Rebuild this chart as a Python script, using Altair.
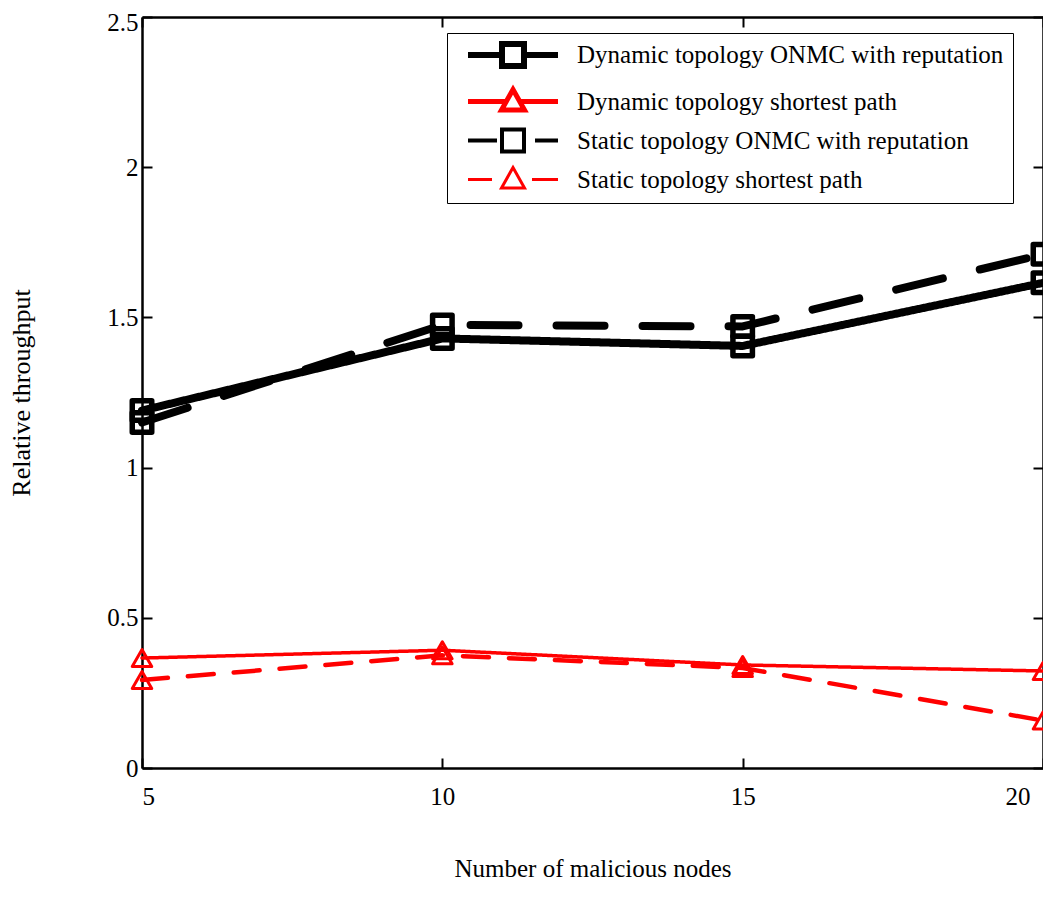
import altair as alt
import pandas as pd

# ---------------- data ----------------
nodes = [5, 10, 15, 20]
dyn_onmc = [1.19, 1.43, 1.405, 1.615]
dyn_sp = [0.366, 0.392, 0.343, 0.323]
sta_onmc = [1.15, 1.475, 1.47, 1.71]
sta_sp = [0.293, 0.375, 0.333, 0.158]
series_names = [
    "Dynamic topology ONMC with reputation",
    "Dynamic topology shortest path",
    "Static topology ONMC with reputation",
    "Static topology shortest path",
]
x_ticks = [5, 10, 15, 20]
y_ticks = [0, 0.5, 1, 1.5, 2, 2.5]

rows = []
for name, vals in zip(series_names, [dyn_onmc, dyn_sp, sta_onmc, sta_sp]):
    for n, v in zip(nodes, vals):
        rows.append({"nodes": n, "value": v, "series": name})
df = pd.DataFrame(rows)

# ---------------- style ----------------
W, H = 901, 751
FONT = "Liberation Serif"
colors = ["black", "red", "black", "red"]
line_widths = [8, 3.5, 8, 4.5]
dashes = [[1, 0], [1, 0], [48, 38], [26, 20]]
shapes = ["square", "triangle-up", "square", "triangle-up"]
marker_sizes = [380, 380, 380, 380]
marker_widths = [5.5, 3, 5.5, 3]
legend_paths = [
    "M-4.5,0H-1.1M1.1,0H4.5M-1.1,-1.1H1.1V1.1H-1.1Z",
    "M-4.5,0H-0.7M0.7,0H4.5M0,-1.2L1.15,0.85H-1.15Z",
    "M-4.5,0H-1.6M-1.1,-1.1H1.1V1.1H-1.1ZM2.2,0H4.5",
    "M-4.5,0H-2.1M0,-1.2L1.15,0.85H-1.15ZM1.9,0H4.5",
]
legend_widths = [6, 3, 6, 3]

xs = alt.Scale(domain=[5, 20], nice=False, zero=False)
ys = alt.Scale(domain=[0, 2.5], nice=False, zero=False)


def X(axis):
    return alt.X("nodes:Q", scale=xs, axis=axis)


def Y(axis):
    return alt.Y("value:Q", scale=ys, axis=axis)


def tick_axis(orient, vals):
    return alt.Axis(orient=orient, values=vals, labels=False, title=None,
                    domain=False, ticks=True, tickSize=10, tickWidth=2,
                    tickColor="black", offset=-10, grid=False)


def frame_axis(orient, vals):
    return alt.Axis(orient=orient, values=vals, labels=False, title=None,
                    domain=True, domainColor="black", domainWidth=2.5,
                    ticks=False, grid=False)


base = alt.Chart(df)

label_layer = base.mark_point(opacity=0).encode(
    x=X(alt.Axis(orient="bottom", values=x_ticks, title="Number of malicious nodes",
                 ticks=False, domain=True, domainColor="black", domainWidth=2.5,
                 grid=False, labelPadding=16, titlePadding=47,
                 labelOffset={"condition": {"test": "datum.value == 20", "value": -13}, "value": 0},
                 labelFont=FONT, labelFontSize=25, labelColor="black",
                 titleFont=FONT, titleFontSize=25, titleFontWeight="normal",
                 titleColor="black", format="~g")),
    y=Y(alt.Axis(orient="left", values=y_ticks, title="Relative throughput",
                 ticks=False, domain=True, domainColor="black", domainWidth=2.5,
                 grid=False, labelPadding=4, titlePadding=72,
                 labelOffset={"condition": {"test": "datum.value == 2.5", "value": 5}, "value": 0},
                 labelFont=FONT, labelFontSize=25, labelColor="black",
                 titleFont=FONT, titleFontSize=26, titleFontWeight="normal",
                 titleColor="black", format="~g")),
)

frame_layer = base.mark_point(opacity=0).encode(
    x=X(frame_axis("top", x_ticks)), y=Y(frame_axis("right", y_ticks)))
tick_layer1 = base.mark_point(opacity=0).encode(
    x=X(tick_axis("bottom", x_ticks)), y=Y(tick_axis("left", y_ticks)))
tick_layer2 = base.mark_point(opacity=0).encode(
    x=X(tick_axis("top", x_ticks)), y=Y(tick_axis("right", y_ticks)))

series_layers = []
for i, name in enumerate(series_names):
    sub = base.transform_filter(alt.datum.series == name)
    line = sub.mark_line(color=colors[i], strokeWidth=line_widths[i],
                         strokeDash=dashes[i], strokeCap="round",
                         strokeJoin="round").encode(x=X(None), y=Y(None))
    pts = sub.mark_point(shape=shapes[i], filled=False, color=colors[i],
                         size=marker_sizes[i], strokeWidth=marker_widths[i],
                         opacity=1, strokeJoin="round").encode(x=X(None), y=Y(None))
    series_layers += [line, pts]

leg = alt.Legend(title=None, orient="none", legendX=305, legendY=16,
                 fillColor="white", strokeColor="black", padding=9,
                 labelFont=FONT, labelFontSize=25, labelColor="black", labelLimit=700,
                 symbolSize=400, symbolOffset=44, labelOffset=51, rowPadding=1,
                 symbolOpacity=1)

legend_layer = base.transform_filter("false").mark_point(filled=False, opacity=1).encode(
    x=X(None), y=Y(None),
    shape=alt.Shape("series:N", scale=alt.Scale(domain=series_names, range=legend_paths), legend=leg),
    color=alt.Color("series:N", scale=alt.Scale(domain=series_names, range=colors), legend=leg),
    strokeWidth=alt.StrokeWidth("series:N", scale=alt.Scale(domain=series_names, range=legend_widths), legend=leg),
)

chart = alt.layer(label_layer, frame_layer, tick_layer1, tick_layer2, *series_layers,
                  legend_layer).resolve_axis(
    x="independent", y="independent"
).properties(
    width=W, height=H,
    autosize=alt.AutoSizeParams(type="none"),
    padding={"left": 134, "top": 9, "right": 0, "bottom": 115},
).configure_view(strokeWidth=0).configure(background="white")

chart.save("out.html", embed_options={"renderer": "svg", "actions": False})
